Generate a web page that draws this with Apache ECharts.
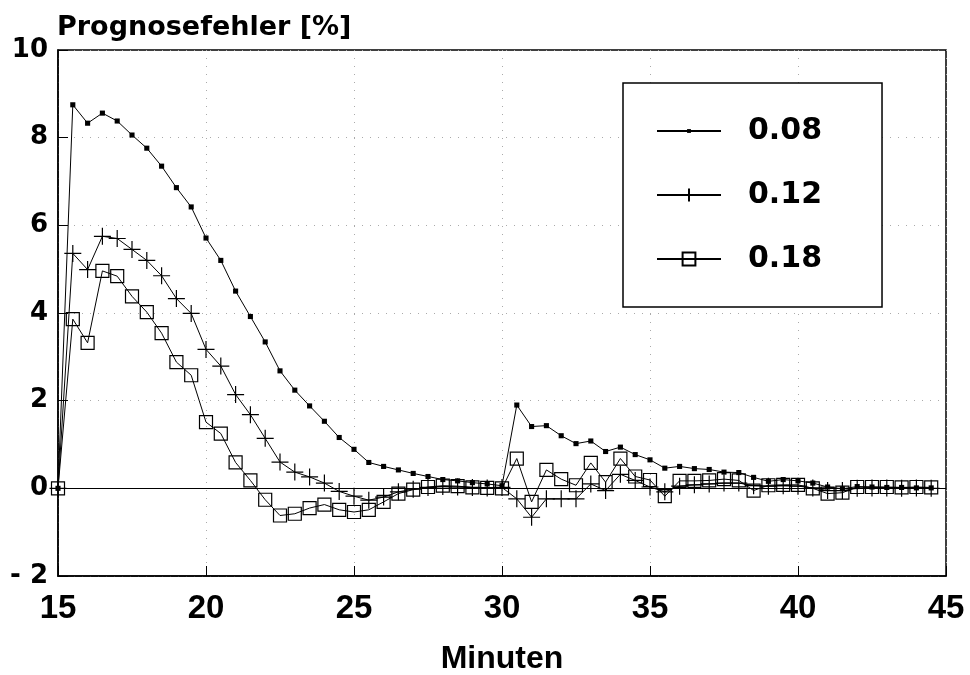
<!DOCTYPE html>
<html>
<head>
<meta charset="utf-8">
<script src="https://cdn.jsdelivr.net/npm/echarts@6/dist/echarts.min.js"></script>
<style>html,body{margin:0;padding:0;background:#fff}#c{width:970px;height:675px}</style>
</head>
<body>
<div id="c"></div>
<script>
const times = [
  15, 15.5, 16, 16.5, 17, 17.5, 18, 18.5, 19, 19.5,
  20, 20.5, 21, 21.5, 22, 22.5, 23, 23.5, 24, 24.5,
  25, 25.5, 26, 26.5, 27, 27.5, 28, 28.5, 29, 29.5,
  30, 30.5, 31, 31.5, 32, 32.5, 33, 33.5, 34, 34.5,
  35, 35.5, 36, 36.5, 37, 37.5, 38, 38.5, 39, 39.5,
  40, 40.5, 41, 41.5, 42, 42.5, 43, 43.5, 44, 44.5
];
const err008 = [
  0, 8.75, 8.33, 8.56, 8.38, 8.06, 7.76, 7.35, 6.86, 6.42,
  5.71, 5.2, 4.5, 3.92, 3.34, 2.68, 2.24, 1.88, 1.53, 1.16,
  0.89, 0.59, 0.5, 0.42, 0.34, 0.27, 0.2, 0.17, 0.13, 0.1,
  0.06, 1.9, 1.41, 1.43, 1.2, 1.02, 1.08, 0.84, 0.94, 0.77,
  0.65, 0.46, 0.5, 0.45, 0.43, 0.37, 0.36, 0.25, 0.16, 0.2,
  0.17, 0.12, 0.03, -0.01, 0.04, 0.03, 0.02, 0.02, 0.01, 0.01
];
const err012 = [
  0, 5.36, 4.99, 5.75, 5.7, 5.45, 5.2, 4.85, 4.33, 3.99,
  3.17, 2.79, 2.14, 1.68, 1.14, 0.6, 0.37, 0.26, 0.12, -0.07,
  -0.18, -0.27, -0.2, -0.08, -0.02, 0.02, 0.04, 0.03, 0.02, 0.01,
  0.02, -0.24, -0.66, -0.24, -0.24, -0.24, 0.1, -0.05, 0.32, 0.18,
  0.03, -0.08, 0.05, 0.08, 0.1, 0.12, 0.12, 0.06, 0.05, 0.06,
  0.05, 0.01, -0.05, -0.05, 0.0, 0.01, 0.01, 0.0, 0.01, 0.0
];
const err018 = [
  0, 3.86, 3.32, 4.96, 4.84, 4.38, 4.02, 3.54, 2.88, 2.58,
  1.51, 1.25, 0.59, 0.18, -0.26, -0.62, -0.58, -0.45, -0.37, -0.49,
  -0.54, -0.49, -0.31, -0.12, -0.03, 0.03, 0.06, 0.05, 0.02, 0.01,
  0.0, 0.68, -0.31, 0.42, 0.21, 0.07, 0.58, 0.14, 0.68, 0.27,
  0.19, -0.18, 0.17, 0.17, 0.18, 0.21, 0.18, -0.05, 0.07, 0.08,
  0.08, 0.0, -0.12, -0.1, 0.03, 0.03, 0.03, 0.02, 0.03, 0.02
];
const seriesNames = ['0.08', '0.12', '0.18'];
const yTitle = 'Prognosefehler [%]';
const xTitle = 'Minuten';

const pair = arr => times.map((t, i) => [t, arr[i]]);
const chart = echarts.init(document.getElementById('c'), null, {renderer: 'canvas'});
// small filled square centred in a larger (invisible) bounding box
const dotPath = 'path://M0,0M20,20M7,7L13,7L13,13L7,13Z';
const plusPath = 'path://M0,8L16,8M8,0L8,16';
const lineStyle = {color: '#000', width: 1};

chart.setOption({
  animation: false,
  backgroundColor: '#fff',
  title: {
    text: yTitle, left: 52, top: 9,
    textStyle: {fontFamily: 'DejaVu Sans', fontWeight: 'bold', fontSize: 27, color: '#000'}
  },
  grid: {left: 58, right: 24, top: 50, bottom: 99, show: true, borderColor: '#000', borderWidth: 1.5,
         containLabel: false, outerBoundsMode: 'none'},
  legend: {
    orient: 'vertical', left: 623, top: 83,
    padding: [31, 60, 31, 33],
    itemWidth: 64, itemHeight: 16, itemGap: 30,
    backgroundColor: '#fff', borderColor: '#000', borderWidth: 1.5,
    textStyle: {fontFamily: 'DejaVu Sans', fontWeight: 'bold', fontSize: 30, color: '#000', lineHeight: 34, padding: [0, 0, 0, 22]},
    data: seriesNames
  },
  xAxis: {
    type: 'value', min: 15, max: 45, interval: 5,
    name: xTitle, nameLocation: 'middle', nameGap: 67,
    nameTextStyle: {fontFamily: 'Liberation Sans', fontWeight: 'bold', fontSize: 32, color: '#000'},
    axisLine: {show: true, onZero: false, lineStyle: {color: '#000', width: 1.5}},
    axisTick: {show: true, inside: true, length: 10, lineStyle: {color: '#000'}},
    axisLabel: {fontFamily: 'Liberation Sans', fontWeight: 'bold', fontSize: 33, color: '#000', margin: 16},
    splitLine: {show: true, lineStyle: {color: '#aaa', type: [1, 7], width: 1}}
  },
  yAxis: {
    type: 'value', min: -2, max: 10, interval: 2,
    axisLine: {show: true, onZero: false, lineStyle: {color: '#000', width: 1.5}},
    axisTick: {show: true, inside: true, length: 10, lineStyle: {color: '#000'}},
    axisLabel: {
      fontFamily: 'DejaVu Sans', fontWeight: 'bold', fontSize: 26, color: '#000', margin: 10,
      formatter: v => v < 0 ? '- ' + Math.abs(v) : String(v)
    },
    splitLine: {show: true, lineStyle: {color: '#aaa', type: [1, 7], width: 1}}
  },
  series: [
    {
      name: seriesNames[0], type: 'line', data: pair(err008),
      symbol: dotPath, symbolSize: 17, lineStyle,
      itemStyle: {color: '#000'},
      markLine: {
        silent: true, symbol: 'none', label: {show: false},
        lineStyle: {color: '#000', type: 'solid', width: 1.2},
        data: [{yAxis: 0}]
      },
      z: 4
    },
    {
      name: seriesNames[1], type: 'line', data: pair(err012),
      symbol: plusPath, symbolSize: 17, lineStyle,
      itemStyle: {color: 'rgba(0,0,0,0)', borderColor: '#000', borderWidth: 1.2},
      z: 3
    },
    {
      name: seriesNames[2], type: 'line', data: pair(err018),
      symbol: 'rect', symbolSize: 13, lineStyle,
      itemStyle: {color: 'rgba(0,0,0,0)', borderColor: '#000', borderWidth: 1.2},
      z: 2
    }
  ]
});
</script>
</body>
</html>
